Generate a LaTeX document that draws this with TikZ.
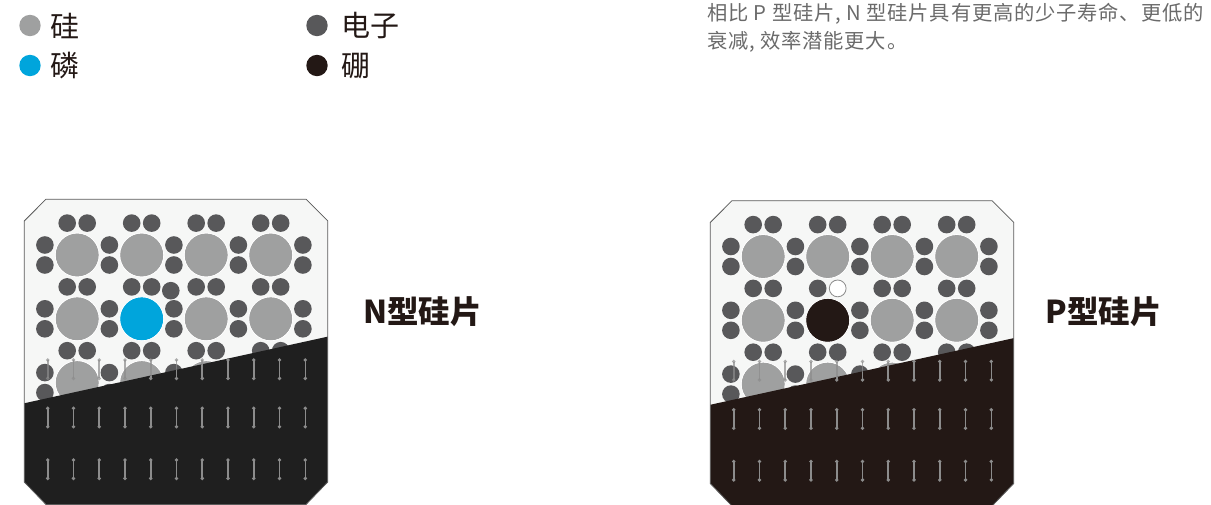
\documentclass[tikz,border=0pt]{standalone}
\usepackage{fontspec}
\newfontfamily\cjk{Noto Sans CJK SC}
\newfontfamily\cjkwide[LetterSpace=4]{Noto Sans CJK SC}
\definecolor{silicon}{HTML}{9FA0A0}
\definecolor{phos}{HTML}{00A5DC}
\definecolor{electron}{HTML}{58585A}
\definecolor{boron}{HTML}{231815}
\definecolor{inkdark}{HTML}{231815}
\definecolor{textgray}{HTML}{6A6A6A}
\definecolor{waferlight}{HTML}{F6F7F6}
\definecolor{ndark}{HTML}{1F1F1F}
\definecolor{pdark}{HTML}{231815}
\definecolor{bargray}{HTML}{8C8C8C}
\definecolor{edgegray}{HTML}{5A5A5A}

\tikzset{
  atom/.style={draw=white, line width=0.6pt},
  elec/.style={fill=electron},
  hole/.style={fill=white, draw=bargray, line width=0.8pt},
  barline/.style={draw=bargray, line width=1.6pt},
  waferedge/.style={draw=edgegray, line width=0.8pt},
  legendtext/.style={anchor=west, inner sep=0pt, text=inkdark, font=\cjk\fontsize{29}{29}\selectfont},
  typelabel/.style={anchor=west, inner sep=0pt, text=inkdark, font=\cjk\bfseries\fontsize{31.5}{31.5}\selectfont},
  notetext/.style={anchor=west, inner sep=0pt, text=textgray, font=\cjkwide\fontsize{20.3}{20.3}\selectfont},
}

% chamfered wafer outline and the diagonal boundary of the dark layer
\def\waferpath{(24.3,221) -- (45.8,199.3) -- (306.2,199.3) -- (327.7,220.8) -- (327.7,482) -- (306,504.5) -- (46,504.5) -- (24.3,482) -- cycle}
\def\darkpath{(20,404.2) -- (332,335.7) -- (332,520) -- (20,520) -- cycle}

% one row of vertical bars with dotted ends, top at #1
\newcommand{\barrow}[1]{%
  \foreach \m in {0,...,10} {
    \pgfmathsetmacro{\bx}{47.7+25.76*\m}
    \draw[barline] (\bx,#1) -- (\bx,#1+18.4);
    \fill[bargray] (\bx,#1) circle[radius=1.9pt];
    \fill[bargray] (\bx,#1+18.4) circle[radius=1.9pt];
  }%
}

% lattice of silicon atoms and shared electron pairs
\newcommand{\lattice}{%
  \foreach \i in {0,...,3} {
    \foreach \j in {0,...,2} {
      \pgfmathsetmacro{\cx}{77.2+64.5*\i}
      \pgfmathsetmacro{\cy}{255+63.8*\j}
      \fill[atom, fill=silicon] (\cx,\cy) circle[radius=22pt];
      \draw[atom] (\cx,\cy) circle[radius=22pt];
    }
  }
  \foreach \i in {0,...,4} {
    \foreach \j in {0,...,2} {
      \pgfmathsetmacro{\ex}{77.2+64.5*\i-32.3}
      \pgfmathsetmacro{\ey}{255+63.8*\j}
      \fill[elec] (\ex,\ey-10) circle[radius=8.8pt];
      \fill[elec] (\ex,\ey+10) circle[radius=8.8pt];
    }
  }
  \foreach \i in {0,...,3} {
    \foreach \k in {0,...,3} {
      \pgfmathsetmacro{\ex}{77.2+64.5*\i}
      \pgfmathsetmacro{\ey}{255-31.9+63.8*\k}
      \fill[elec] (\ex-10,\ey) circle[radius=8.8pt];
      \fill[elec] (\ex+10,\ey) circle[radius=8.8pt];
    }
  }%
}

% #1 dark layer colour, #2 dopant drawing
\newcommand{\wafer}[2]{%
  \fill[waferlight] \waferpath;
  \begin{scope}
    \clip \waferpath;
    \lattice
    #2
    \begin{scope}[opacity=0.7]
      \barrow{360}
    \end{scope}
    \fill[#1] \darkpath;
    \begin{scope}
      \clip \darkpath;
      \barrow{360}
      \barrow{408.3}
      \barrow{460}
    \end{scope}
  \end{scope}
  \draw[waferedge] \waferpath;
}

\begin{document}
\begin{tikzpicture}[x=1pt, y=-1pt]
  \useasboundingbox (0,0) rectangle (1211,504);

  % legend
  \fill[silicon]  (30,25.5)  circle[radius=10.7pt];
  \fill[phos]     (30,65.5)  circle[radius=10.7pt];
  \fill[electron] (317,25.5) circle[radius=10.7pt];
  \fill[boron]    (317,65.5) circle[radius=10.7pt];
  \node[legendtext] (lgsi) at (50.5,26)  {硅};
  \node[legendtext] (lgp)  at (50.5,66)  {磷};
  \node[legendtext] (lge)  at (341.5,26) {电子};
  \node[legendtext] (lgb)  at (341.5,66) {硼};

  % note
  \node[notetext] (note1) at (707,14) {相比 P 型硅片, N 型硅片具有更高的少子寿命、更低的};
  \node[notetext] (note2) at (707,41.5) {衰减, 效率潜能更大。};

  % N-type wafer: phosphorus donor with its spare electron
  \begin{scope}
    \wafer{ndark}{%
      \fill[atom, fill=phos] (141.7,318.8) circle[radius=22pt];
      \draw[atom] (141.7,318.8) circle[radius=22pt];
      \fill[elec] (170.8,290.7) circle[radius=8.8pt];
    }
  \end{scope}
  \node[typelabel] (nlabel) at (363,312) {N型硅片};

  % P-type wafer: boron acceptor with a hole
  \begin{scope}[shift={(686,1.5)}]
    \wafer{pdark}{%
      \fill[atom, fill=boron] (141.7,318.8) circle[radius=22pt];
      \draw[atom] (141.7,318.8) circle[radius=22pt];
      \fill[waferlight] (151.7,286.9) circle[radius=9.5pt];
      \draw[hole] (151.7,286.9) circle[radius=8.4pt];
    }
  \end{scope}
  \node[typelabel] (plabel) at (1045.5,312) {P型硅片};
\end{tikzpicture}
\end{document}
